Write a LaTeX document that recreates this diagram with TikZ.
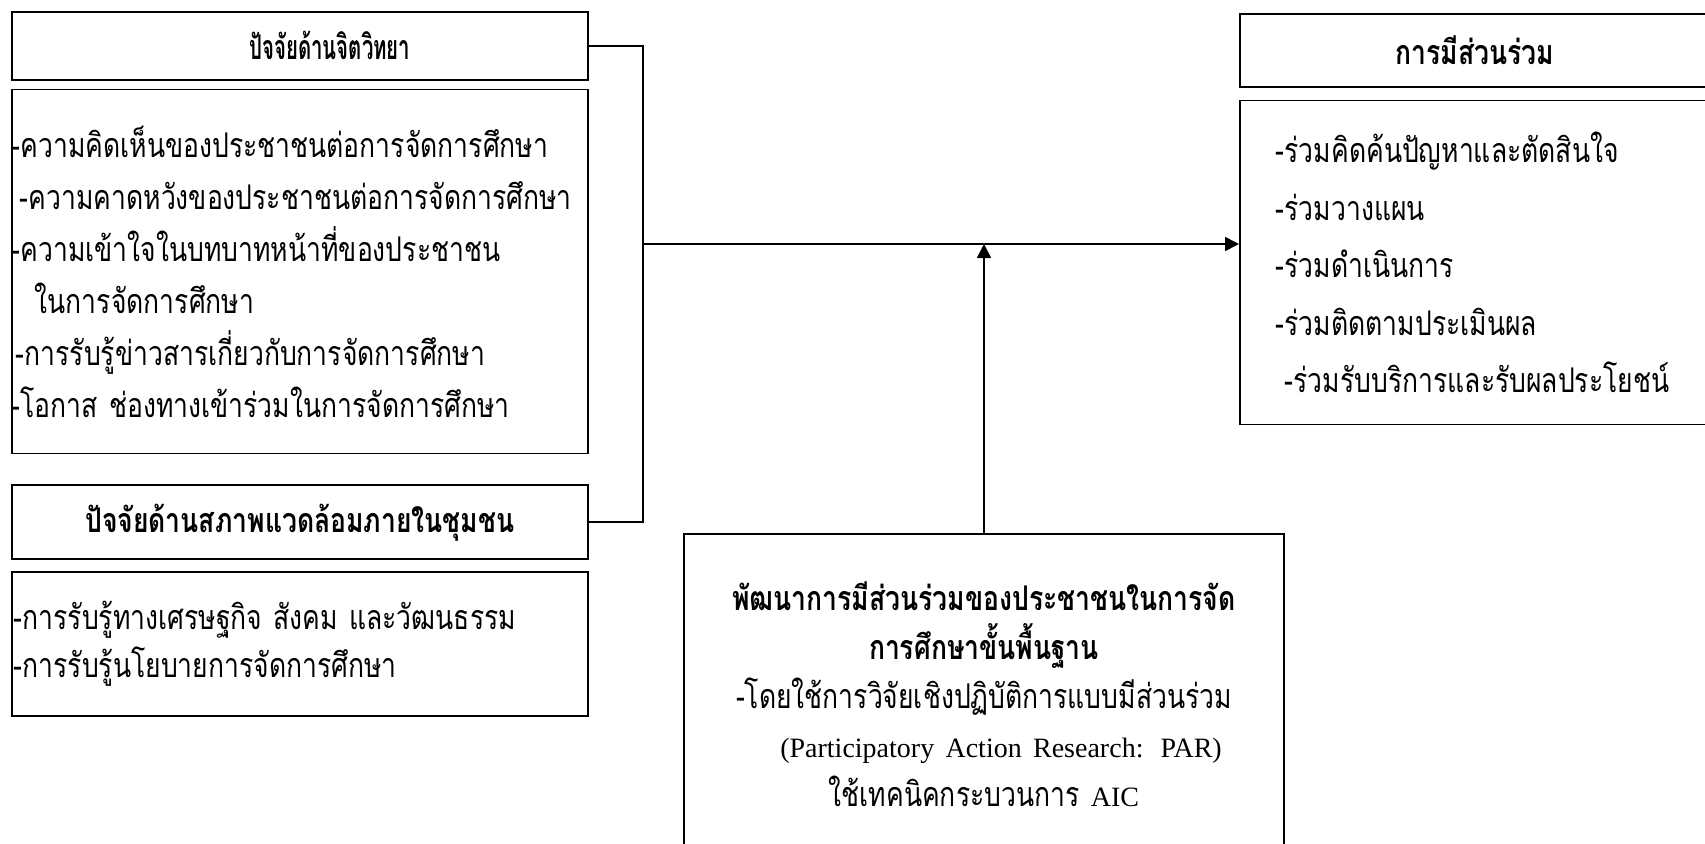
\documentclass[tikz,border=0pt]{standalone}
\usepackage{fontspec}
\newfontfamily\thai[Script=Thai,FakeStretch=0.78]{Loma}
\newfontfamily\thainarrow[Script=Thai,FakeStretch=0.6]{Loma}
\newfontfamily\en{Liberation Serif}
\usetikzlibrary{arrows.meta, positioning}

\begin{document}
\begin{tikzpicture}[x=0.5pt, y=-0.5pt, >={Triangle[length=7pt,width=7pt]}, line width=0.85pt,
  head/.style={draw, minimum width=288pt, inner sep=0pt, font=\thai\bfseries\fontsize{17}{20}\selectfont},
  list/.style={draw, text width=288pt, inner xsep=0pt, align=left, font=\thai\fontsize{17}{26}\selectfont}]
\useasboundingbox (0,0) rectangle (1705,843);
\clip (0,0) rectangle (1705,843);
\node[head, minimum height=34pt, anchor=north west, font=\thainarrow\bfseries\fontsize{17}{20}\selectfont] (h1) at (11,11) {\hspace*{30pt}ปัจจัยด้านจิตวิทยา};
\node[list, minimum height=182pt, below=4pt of h1] (b1) {-ความคิดเห็นของประชาชนต่อการจัดการศึกษา\\
\hspace*{4pt}-ความคาดหวังของประชาชนต่อการจัดการศึกษา\\
-ความเข้าใจในบทบาทหน้าที่ของประชาชน\\
\hspace*{11.5pt}ในการจัดการศึกษา\\
\hspace*{2pt}-การรับรู้ข่าวสารเกี่ยวกับการจัดการศึกษา\\
-โอกาส ช่องทางเข้าร่วมในการจัดการศึกษา};
\node[head, minimum height=37pt, below=15pt of b1] (h2) {ปัจจัยด้านสภาพแวดล้อมภายในชุมชน};
\node[list, minimum height=72pt, below=5.5pt of h2, font=\thai\fontsize{17}{24}\selectfont] (b2) {\hspace*{1pt}-การรับรู้ทางเศรษฐกิจ สังคม และวัฒนธรรม\\
\hspace*{1pt}-การรับรู้นโยบายการจัดการศึกษา};
\node[head, minimum width=235pt, minimum height=36.5pt, anchor=north west] (h3) at (1239,13) {การมีส่วนร่วม};
\node[list, text width=235pt, minimum height=162pt, below=6pt of h3, font=\thai\fontsize{17}{28.75}\selectfont] (b3) {\hspace*{18pt}-ร่วมคิดค้นปัญหาและตัดสินใจ\\
\hspace*{18pt}-ร่วมวางแผน\\
\hspace*{18pt}-ร่วมดำเนินการ\\
\hspace*{18pt}-ร่วมติดตามประเมินผล\\
\hspace*{22.5pt}-ร่วมรับบริการและรับผลประโยชน์};
\node[list, text width=300pt, align=center, inner ysep=24pt, anchor=north, font=\thai\fontsize{17}{24.5}\selectfont] (m) at (984,533) {\textbf{พัฒนาการมีส่วนร่วมของประชาชนในการจัด}\\
\textbf{การศึกษาขั้นพื้นฐาน}\\
-โดยใช้การวิจัยเชิงปฏิบัติการแบบมีส่วนร่วม\\
\hspace*{17pt}{\en\fontsize{14}{24.5}\selectfont(Participatory Action Research: PAR)}\\
ใช้เทคนิคกระบวนการ {\en\fontsize{14}{24.5}\selectfont AIC}\hspace*{11pt}};
\coordinate (j) at (643,244);
\draw (h1.east) -| (j) |- (h2.east);
\draw[->] (j) -- (j -| b3.west);
\draw[->] (m.north) -- (m.north |- j);
\end{tikzpicture}
\end{document}
